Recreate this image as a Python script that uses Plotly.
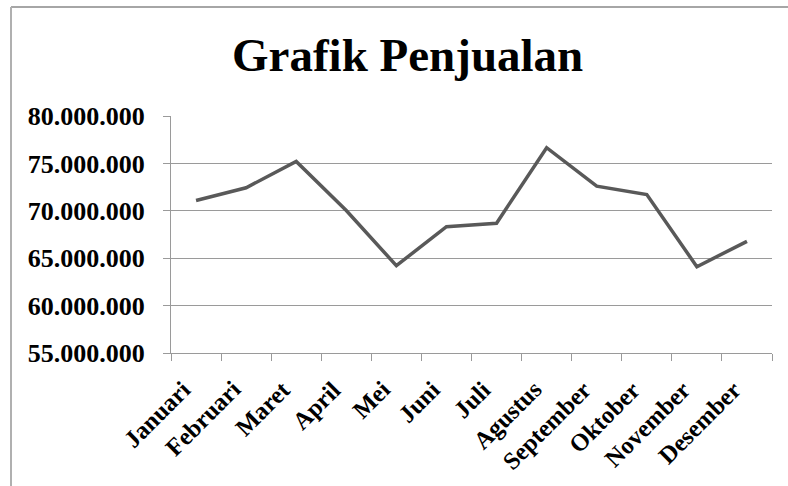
import plotly.graph_objects as go

months = ["Januari", "Februari", "Maret", "April", "Mei", "Juni", "Juli",
          "Agustus", "September", "Oktober", "November", "Desember"]
sales = [71_090_000, 72_430_000, 75_210_000, 70_030_000, 64_210_000, 68_330_000,
         68_690_000, 76_660_000, 72_600_000, 71_720_000, 64_100_000, 66_780_000]
y_ticks = [55_000_000, 60_000_000, 65_000_000, 70_000_000, 75_000_000, 80_000_000]
y_tick_text = ["55.000.000", "60.000.000", "65.000.000", "70.000.000", "75.000.000", "80.000.000"]
title_text = "Grafik Penjualan"

W, H = 788, 486
L, R, T, B = 171, 16, 116, 133

fig = go.Figure()
fig.add_trace(go.Scatter(
    x=months, y=sales, mode="lines",
    line=dict(color="#595959", width=3.5),
    showlegend=False, hoverinfo="skip",
))

font_family = "Liberation Serif, Times New Roman, serif"

annotations = [dict(
    text=title_text, xref="paper", yref="paper",
    x=(407 - L) / (W - L - R), y=1 + (T - 55) / (H - T - B),
    xanchor="center", yanchor="middle", showarrow=False,
    font=dict(family=font_family, size=47, color="black", weight="bold"),
)]
for m in months:
    annotations.append(dict(
        text=m, x=m, xref="x", y=0, yref="paper",
        xanchor="right", yanchor="top", textangle=-45,
        xshift=2, yshift=-20, showarrow=False,
        font=dict(family=font_family, size=24.5, color="black", weight="bold"),
    ))

fig.update_layout(
    width=W, height=H,
    margin=dict(l=L, r=R, t=T, b=B, pad=0),
    paper_bgcolor="white", plot_bgcolor="white",
    font=dict(family=font_family, color="black"),
    xaxis=dict(
        type="category", tickson="boundaries", range=[-0.5, len(months) - 0.5],
        automargin=False, showticklabels=False,
        ticks="outside", ticklen=7, tickcolor="#9a9a9a", tickwidth=1.3,
        showline=True, linecolor="#9a9a9a", linewidth=1.3,
        showgrid=False,
    ),
    yaxis=dict(
        range=[55_000_000, 80_000_000], automargin=False,
        tickvals=y_ticks, ticktext=y_tick_text,
        ticks="outside", ticklen=7, tickcolor="#9a9a9a", tickwidth=1.3,
        showline=True, linecolor="#9a9a9a", linewidth=1.3,
        showgrid=True, gridcolor="#9a9a9a", gridwidth=1.3,
        zeroline=False,
        tickfont=dict(family=font_family, size=26, color="black", weight="bold"),
        ticklabelstandoff=13,
    ),
    annotations=annotations,
    shapes=[
        dict(type="line", xref="paper", yref="paper",
             x0=(11 - L) / (W - L - R), x1=(W - L) / (W - L - R),
             y0=1 + (T - 7) / (H - T - B), y1=1 + (T - 7) / (H - T - B),
             line=dict(color="#888888", width=1.3), layer="above"),
        dict(type="line", xref="paper", yref="paper",
             x0=(11 - L) / (W - L - R), x1=(11 - L) / (W - L - R),
             y0=1 + (T - 7) / (H - T - B), y1=-(B) / (H - T - B),
             line=dict(color="#b0b0b0", width=2), layer="above"),
    ],
)

fig.write_html("out.html")
